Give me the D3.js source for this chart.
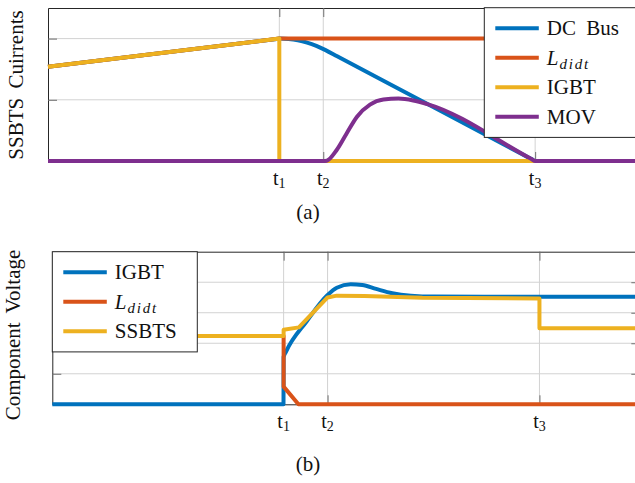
<!DOCTYPE html>
<html>
<head>
<meta charset="utf-8">
<script src="https://cdn.jsdelivr.net/npm/d3@7"></script>
<style>
  body { margin: 0; background: #fff; }
  svg { display: block; }
  svg text { font-family: "Liberation Serif", "DejaVu Serif", serif; }
</style>
</head>
<body>
<svg id="chart" width="635" height="483"></svg>
<script>
// switching instants, same time unit in both panels (t1 = 1)
const tTicks = [1.0, 1.19, 2.106];
const tTickSubs = ["1", "2", "3"];
const currentTicks = [1, 2];
const voltageTicks = [1, 2, 3, 4];

// (a) SSBTS currents, [t, i]
const dcBusCurrent = [[0, 1.54], [0.98, 1.991], [1.0, 2.0], [1.04, 1.993], [1.08, 1.972], [1.12, 1.935],
  [1.16, 1.882], [1.2, 1.812], [1.25, 1.712], [1.7, 0.812], [2.09, 0.032], [2.106, 0], [2.55, 0]];
const lDidtCurrent = [[0, 1.54], [1.0, 2.0], [2.55, 2.0]];
const igbtCurrent = [[0, 1.54], [1.0, 2.0], [1.0, 0], [2.55, 0]];
const movCurrent = [[0, 0], [1.19, 0], [1.205, 0.005], [1.248, 0.18], [1.291, 0.45], [1.335, 0.72],
  [1.392, 0.92], [1.45, 1.005], [1.515, 1.02], [1.579, 0.99], [1.64, 0.93], [2.09, 0.032], [2.106, 0], [2.55, 0]];

// (b) component voltages, [t, v]
const igbtVoltage = [[0, 0], [0.9995, 0], [1.0, 1.55], [1.01, 1.72], [1.1, 2.72], [1.19, 3.58], [1.23, 3.82],
  [1.29, 3.93], [1.34, 3.91], [1.4, 3.78], [1.47, 3.64], [1.55, 3.56], [1.65, 3.53], [2.55, 3.52]];
const lDidtVoltage = [[0, 2.24], [1.0, 2.24], [1.0, 0.58], [1.064, 0], [2.55, 0]];
const ssbtsVoltage = [[0, 2.24], [1.0, 2.24], [1.0, 2.44], [1.066, 2.52], [1.19, 3.5], [1.23, 3.56],
  [1.35, 3.55], [1.6, 3.49], [2.106, 3.47], [2.106, 2.49], [2.55, 2.49]];

const blue = "#0072BD", orange = "#D95319", yellow = "#EDB120", purple = "#7E2F8E";
const serif = "Liberation Serif, DejaVu Serif, serif";

const svg = d3.select("#chart");

function drawPanel(p) {
  const x = d3.scaleLinear().domain([0, 2.542]).range([p.left, p.left + 588]);
  const y = d3.scaleLinear().domain(p.yDomain).range([p.bottom, p.top]);
  const g = svg.append("g");

  // grid
  g.selectAll(".vg").data(tTicks).join("line")
    .attr("x1", d => x(d)).attr("x2", d => x(d))
    .attr("y1", p.top).attr("y2", p.bottom)
    .attr("stroke", "#d2d2d2").attr("stroke-width", 1);
  g.selectAll(".hg").data(p.yTicks).join("line")
    .attr("x1", p.left).attr("x2", p.left + 588)
    .attr("y1", d => y(d)).attr("y2", d => y(d))
    .attr("stroke", "#d2d2d2").attr("stroke-width", 1);

  // inward ticks on all four sides, frame from the domain paths
  const axes = [
    [d3.axisBottom(x).tickValues(tTicks), `translate(0,${p.bottom})`],
    [d3.axisTop(x).tickValues(tTicks), `translate(0,${p.top})`],
    [d3.axisLeft(y).tickValues(p.yTicks), `translate(${p.left},0)`],
    [d3.axisRight(y).tickValues(p.yTicks), `translate(${p.left + 588},0)`]
  ];
  axes.forEach(([ax, tr]) => {
    const a = g.append("g").attr("transform", tr)
      .call(ax.tickSize(-9).tickSizeOuter(0).tickFormat(""));
    a.select(".domain").attr("stroke", "#262626").attr("stroke-width", 1);
    a.selectAll(".tick line").attr("stroke", "#707070").attr("stroke-width", 1);
  });

  // tick labels t1, t2, t3
  const lab = g.selectAll(".tl").data(tTicks).join("text")
    .attr("x", d => x(d)).attr("y", p.bottom + 24)
    .attr("text-anchor", "middle").attr("font-family", serif)
    .attr("font-size", 20).attr("fill", "#111");
  lab.append("tspan").text("t");
  lab.append("tspan").attr("font-size", 14).attr("dy", 3).text((d, i) => tTickSubs[i]);

  // y label
  g.append("text")
    .attr("transform", `translate(${p.ylabX},${p.ylabY}) rotate(-90)`)
    .attr("text-anchor", "middle").attr("font-family", serif)
    .attr("font-size", 21).attr("fill", "#111")
    .attr("word-spacing", 4)
    .text(p.ylabel);

  // caption
  g.append("text").attr("x", 308).attr("y", p.captionY)
    .attr("text-anchor", "middle").attr("font-family", serif)
    .attr("font-size", 21).attr("fill", "#111")
    .text(p.caption);

  // series
  p.series.forEach(s => {
    const line = d3.line().x(d => x(d[0])).y(d => y(d[1]))
      .curve(s.smooth ? d3.curveMonotoneX : d3.curveLinear);
    g.append("path").datum(s.data)
      .attr("d", line)
      .attr("fill", "none").attr("stroke", s.color).attr("stroke-width", 4)
      .attr("stroke-linejoin", "round");
  });

  // legend
  const L = p.legend;
  const lg = svg.append("g").attr("transform", `translate(${L.x},${L.y})`);
  lg.append("rect").attr("width", L.w).attr("height", 20.6 * 2 + 29.5 * (p.series.length - 1))
    .attr("fill", "#fff").attr("stroke", "#262626").attr("stroke-width", 1);
  const order = L.order.map(n => p.series.find(s => s.name === n));
  order.forEach((s, i) => {
    const ry = 20.6 + 29.5 * i;
    lg.append("line").attr("x1", 11).attr("x2", 54.5).attr("y1", ry).attr("y2", ry)
      .attr("stroke", s.color).attr("stroke-width", 4);
    const t = lg.append("text").attr("x", 62.5).attr("y", ry + 7)
      .attr("font-family", serif).attr("font-size", 21).attr("fill", "#111");
    if (s.name === "Ldidt") {
      t.append("tspan").attr("font-style", "italic").text("L");
      t.append("tspan").attr("font-style", "italic").attr("font-size", 15)
        .attr("letter-spacing", 1.8).attr("dy", 4).attr("dx", 1).text("didt");
    } else {
      t.attr("word-spacing", 5).text(s.name);
    }
  });
}

drawPanel({
  left: 48, top: 8, bottom: 161,
  yDomain: [0, 2.5], yTicks: currentTicks,
  ylabel: "SSBTS Cuirrents", ylabX: 23, ylabY: 85,
  caption: "(a)", captionY: 219,
  series: [
    { name: "DC Bus", data: dcBusCurrent, color: blue, smooth: true },
    { name: "Ldidt", data: lDidtCurrent, color: orange, smooth: false },
    { name: "IGBT", data: igbtCurrent, color: yellow, smooth: false },
    { name: "MOV", data: movCurrent, color: purple, smooth: true }
  ],
  legend: { x: 484.3, y: 7.7, w: 170, order: ["DC Bus", "Ldidt", "IGBT", "MOV"] }
});

drawPanel({
  left: 52.3, top: 251.7, bottom: 404.3,
  yDomain: [0, 5], yTicks: voltageTicks,
  ylabel: "Component Voltage", ylabX: 20, ylabY: 335,
  caption: "(b)", captionY: 471,
  series: [
    { name: "IGBT", data: igbtVoltage, color: blue, smooth: true },
    { name: "Ldidt", data: lDidtVoltage, color: orange, smooth: false },
    { name: "SSBTS", data: ssbtsVoltage, color: yellow, smooth: false }
  ],
  legend: { x: 52.3, y: 251.7, w: 145, order: ["IGBT", "Ldidt", "SSBTS"] }
});
</script>
</body>
</html>
